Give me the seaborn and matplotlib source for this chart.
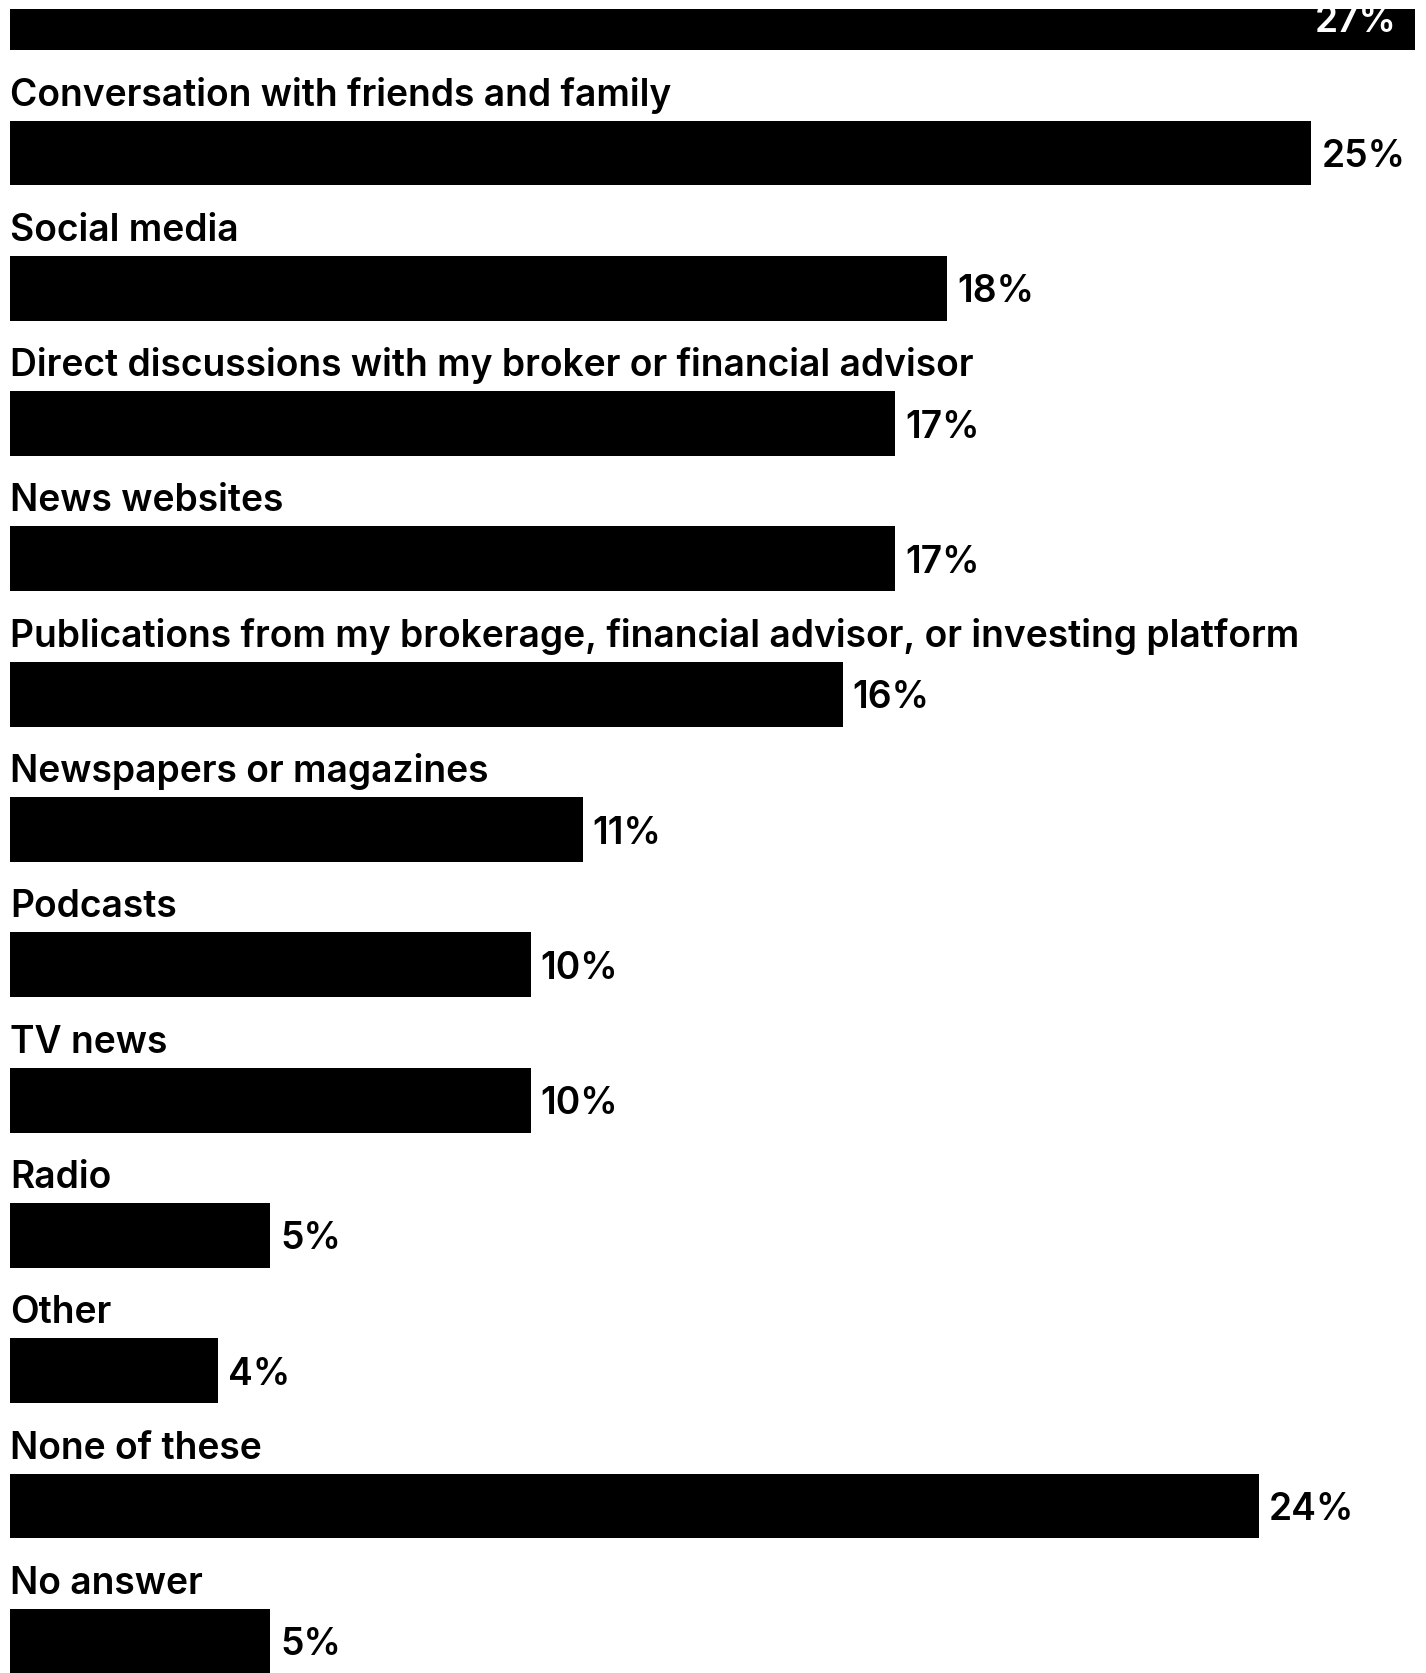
import matplotlib
matplotlib.use("Agg")
import matplotlib.pyplot as plt
import seaborn as sns
import pandas as pd

categories = [
    "Financial news websites or apps",
    "Conversation with friends and family",
    "Social media",
    "Direct discussions with my broker or financial advisor",
    "News websites",
    "Publications from my brokerage, financial advisor, or investing platform",
    "Newspapers or magazines",
    "Podcasts",
    "TV news",
    "Radio",
    "Other",
    "None of these",
    "No answer",
]
values = [27, 25, 18, 17, 17, 16, 11, 10, 10, 5, 4, 24, 5]
value_labels = [f"{v}%" for v in values]

df = pd.DataFrame({"source": categories, "share": values})

sns.set_theme(style="white")
plt.rcParams["font.family"] = ["Inter", "DejaVu Sans"]

W, H = 1426, 1673
fig = plt.figure(figsize=(W / 100, H / 100), dpi=100)
ax = fig.add_axes([10 / W, 0, 1 - 10 / W, 1 - 9 / H])

sns.barplot(data=df, x="share", y="source", orient="h", color="black",
            saturation=1, width=0.48, linewidth=0, ax=ax)

px_per_unit_x = 52.05
ax.set_xlim(0, (W - 10) / px_per_unit_x)
pitch = 135.3
c0 = 17.7
ax.set_ylim((H - c0) / pitch, (9 - c0) / pitch)

fs = 26.8
fw = "semibold"
for i, (cat, v, lab) in enumerate(zip(categories, values, value_labels)):
    ax.text(0, i - 47.5 / pitch, cat, ha="left", va="baseline",
            fontsize=fs, fontweight=fw, color="black", clip_on=True)
    if i == 0:
        ax.annotate(lab, xy=(v, i), xytext=(-19, -14), textcoords="offset pixels",
                    ha="right", va="baseline", fontsize=fs, fontweight=fw,
                    color="white", annotation_clip=False, clip_on=True)
    else:
        ax.annotate(lab, xy=(v, i), xytext=(10, -14), textcoords="offset pixels",
                    ha="left", va="baseline", fontsize=fs, fontweight=fw,
                    color="black", clip_on=True)

ax.set_xlabel("")
ax.set_ylabel("")
ax.set_xticks([])
ax.set_yticks([])
for s in ax.spines.values():
    s.set_visible(False)

fig.savefig("out.png", dpi=100, facecolor="white")
